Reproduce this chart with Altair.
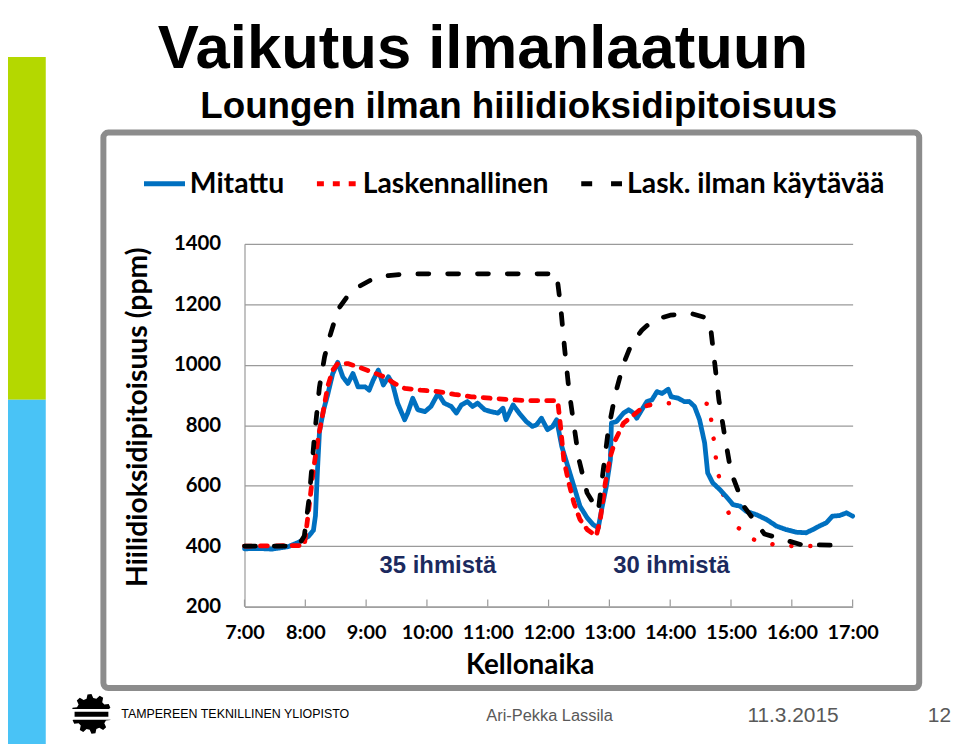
import math
import altair as alt
import pandas as pd

# ---------------- data ----------------
series_names = ["Mitattu", "Laskennallinen", "Lask. ilman käytävää"]
series_colors = ["#0070C0", "#FF0000", "#000000"]

# minutes after 7:00 and CO2 (ppm)
mitattu_min = [0, 14, 27, 43, 53, 63, 68, 70, 72, 74,
               78, 82, 87, 92, 97, 102, 107, 112, 119, 123,
               127, 132, 137, 142, 146, 151, 158, 161, 166, 171,
               178, 184, 191, 197, 204, 209, 214, 220, 225, 230,
               237, 243, 250, 255, 258, 265, 271, 278, 284, 288,
               293, 299, 304, 308, 313, 318, 325, 331, 338, 344,
               349, 353, 357, 361, 362, 367, 374, 379, 384, 387,
               392, 397, 402, 407, 412, 418, 421, 428, 434, 439,
               444, 449, 454, 457, 462, 469, 475, 482, 489, 495,
               505, 515, 525, 534, 544, 554, 561, 567, 574, 580,
               587, 594, 600]
mitattu_ppm = [391, 392, 390, 398, 412, 432, 452, 500, 650, 780,
               850, 900, 970, 1008, 960, 938, 971, 927, 927, 916,
               949, 982, 933, 960, 938, 873, 818, 840, 889, 851,
               845, 862, 905, 873, 862, 840, 867, 878, 862, 873,
               851, 845, 840, 856, 818, 867, 840, 812, 796, 801,
               823, 785, 796, 818, 730, 675, 598, 532, 494, 471,
               460, 532, 598, 686, 807, 812, 840, 851, 840, 823,
               851, 878, 884, 911, 905, 919, 894, 889, 878, 878,
               862, 818, 741, 642, 609, 587, 565, 537, 532, 515,
               504, 488, 466, 455, 446, 444, 455, 466, 477, 499,
               501, 510, 499]

lask_min = [0, 59, 63, 68, 73, 78, 82, 87, 92, 102,
            112, 125, 138, 148, 158, 174, 191, 207, 224, 243,
            263, 283, 309, 312, 315, 320, 325, 331, 338, 347,
            351, 356, 361, 366, 374, 384, 394, 400, 420, 439,
            459, 461, 464, 466, 471, 475, 485, 502, 521, 541, 562]
lask_ppm = [400, 402, 510, 653, 763, 851, 927, 982, 1004, 1004,
            993, 977, 960, 938, 922, 916, 911, 902, 894, 889,
            884, 881, 881, 790, 686, 609, 543, 488, 455, 433,
            488, 609, 697, 752, 807, 834, 862, 867, 873, 878,
            870, 796, 730, 658, 592, 526, 466, 422, 406, 400, 400]

ilman_min = [0, 53, 59, 64, 69, 74, 79, 84, 89, 94,
             101, 112, 125, 142, 158, 191, 308, 312, 316, 320,
             325, 330, 338, 349, 354, 359, 366, 374, 382, 392,
             403, 420, 441, 456, 460, 464, 468, 474, 480, 493,
             513, 549, 589]
ilman_ppm = [400, 400, 433, 565, 763, 927, 1026, 1092, 1147, 1191,
             1224, 1257, 1281, 1295, 1300, 1301, 1301, 1190, 1048, 920,
             800, 686, 576, 515, 653, 785, 905, 1004, 1070, 1114,
             1147, 1164, 1169, 1155, 1120, 1003, 885, 760, 645, 530,
             440, 405, 402]

hour_ticks = [7, 8, 9, 10, 11, 12, 13, 14, 15, 16, 17]
ppm_ticks = [200, 400, 600, 800, 1000, 1200, 1400]

ann_text = ["35 ihmistä", "30 ihmistä"]
ann_hour = [10.18, 14.02]
ann_ppm = [312, 312]

START_HOUR = 7
LASK_DOTTED_FROM = 400  # minutes after 7:00 where the calculated line turns dotted

# ---------------- tables ----------------
def frame(name, mins, vals):
    return pd.DataFrame({"series": name,
                         "hour": [START_HOUR + m / 60 for m in mins],
                         "ppm": vals,
                         "minute": mins})

blue_df = frame(series_names[0], mitattu_min, mitattu_ppm)
red_df = frame(series_names[1], lask_min, lask_ppm)
black_df = frame(series_names[2], ilman_min, ilman_ppm)

red_dash_df = red_df[red_df["minute"] <= LASK_DOTTED_FROM]
red_dot_df = red_df[red_df["minute"] >= LASK_DOTTED_FROM]

lines_df = pd.concat([blue_df, red_dash_df, black_df], ignore_index=True)
ann_df = pd.DataFrame({"text": ann_text, "hour": ann_hour, "ppm": ann_ppm})
ticks_df = pd.DataFrame({"hour": hour_ticks})
one = pd.DataFrame({"k": [0]})

W, H = 612, 365
GRAY = "#9a9a9a"

x_scale = alt.Scale(domain=[7, 17], nice=False, zero=False)
y_scale = alt.Scale(domain=[200, 1400], nice=False, zero=False)

leg = alt.Legend(orient="none", legendX=-104, legendY=-84, direction="horizontal",
                 title=None, symbolType="stroke", symbolStrokeWidth=5, symbolSize=1700,
                 labelFont="Lato", labelFontSize=28.5, labelFontWeight="bold",
                 labelColor="black", labelLimit=500, columnPadding=22, labelOffset=2)

x_axis = alt.Axis(values=hour_ticks, labelExpr="datum.value + ':00'", grid=False,
                  ticks=False, tickSize=0, domainColor=GRAY, domainWidth=1.2,
                  labelFont="Lato", labelFontSize=20, labelFontWeight="bold",
                  labelColor="black", labelPadding=16, labelFlush=False, labelOverlap=False,
                  title="Kellonaika", titleFont="Lato", titleFontSize=28,
                  titleFontWeight="bold", titleColor="black", titleX=287, titleY=59,
                  titleBaseline="middle")

y_axis = alt.Axis(values=ppm_ticks, format="d", grid=True, gridColor=GRAY, gridWidth=1.2,
                  ticks=False, tickSize=0, domainColor=GRAY, domainWidth=1.2,
                  labelFont="Lato", labelFontSize=20.5, labelFontWeight="bold",
                  labelColor="black", labelPadding=24, labelFlush=False, labelOverlap=False,
                  title="Hiilidioksidipitoisuus (ppm)", titleFont="Lato", titleFontSize=28.5,
                  titleFontWeight="bold", titleColor="black", titleX=-108, titleY=174,
                  titleBaseline="middle")


def rect(x, x2, y, y2, **kw):
    return alt.Chart(one).mark_rect(**kw).encode(
        x=alt.value(x), x2=alt.value(x2), y=alt.value(y), y2=alt.value(y2))


def label(txt, x, y, **kw):
    return alt.Chart(one).mark_text(text=txt, **kw).encode(x=alt.value(x), y=alt.value(y))


def gear_path(n=10, r_out=1.0, r_in=0.8):
    pts = []
    step = 2 * math.pi / n
    for i in range(n):
        a0 = step * i
        for frac, r in [(0.0, r_in), (0.18, r_out), (0.5, r_out), (0.68, r_in)]:
            a = a0 + frac * step
            pts.append((r * math.cos(a), r * math.sin(a)))
    return "M" + " L".join(f"{px:.3f},{py:.3f}" for px, py in pts) + " Z"


# ---------------- slide decorations ----------------
green = rect(-250, -200, -188, 157, color="#B4D800")
cyan = rect(-250, -200, 157, 505, color="#49C3F6")
box = rect(-142, 679, -112, 447, fillOpacity=0, stroke="#8C8C8C", strokeWidth=6,
           cornerRadius=5)

title = label("Vaikutus ilmanlaatuun", 240, -177, font="Liberation Sans", fontSize=62,
              fontWeight="bold", align="center", baseline="alphabetic", color="black")
subtitle = label("Loungen ilman hiilidioksidipitoisuus", 276, -127, font="Liberation Sans",
                 fontSize=37, fontWeight="bold", align="center", baseline="alphabetic",
                 color="black")

logo_gear = alt.Chart(one).mark_point(shape=gear_path(), filled=True, color="black",
                                      opacity=1, size=1600).encode(
    x=alt.value(-154), y=alt.value(473))
logo_band = rect(-176, -132, 468, 479, color="white")
logo_bar = rect(-171, -137, 471, 476, color="black")

uni = label("TAMPEREEN TEKNILLINEN YLIOPISTO", -124, 473, font="Liberation Sans",
            fontSize=12.5, align="left", baseline="middle", color="black")
author = label("Ari-Pekka Lassila", 307, 475, font="Liberation Sans",
               fontSize=16.5, align="center", baseline="middle", color="#595959")
date = label("11.3.2015", 552, 475, font="Liberation Sans",
             fontSize=21, align="center", baseline="middle", color="#595959")
page = label("12", 711, 475, font="Liberation Sans",
             fontSize=21, align="right", baseline="middle", color="#595959")

# ---------------- chart ----------------
lines = alt.Chart(lines_df).mark_line(strokeCap="round", strokeJoin="round",
                                      strokeWidth=4.8).encode(
    x=alt.X("hour:Q", scale=x_scale, axis=x_axis),
    y=alt.Y("ppm:Q", scale=y_scale, axis=y_axis),
    color=alt.Color("series:N", scale=alt.Scale(domain=series_names, range=series_colors),
                    legend=leg),
    strokeDash=alt.StrokeDash("series:N",
                              scale=alt.Scale(domain=series_names,
                                              range=[[1, 0], [7, 9], [11, 19]]),
                              legend=leg),
)

red_dots = alt.Chart(red_dot_df).mark_line(color="#FF0000", strokeWidth=4.5, strokeCap="round",
                                           strokeDash=[0.1, 19]).encode(
    x=alt.X("hour:Q", scale=x_scale), y=alt.Y("ppm:Q", scale=y_scale))

inner_ticks = alt.Chart(ticks_df).mark_rule(color=GRAY, strokeWidth=1.2).encode(
    x=alt.X("hour:Q", scale=x_scale), y=alt.value(H), y2=alt.value(H - 7))

annotations = alt.Chart(ann_df).mark_text(font="Liberation Sans", fontSize=24,
                                          fontWeight="bold", color="#1B2A5E",
                                          align="center", baseline="alphabetic").encode(
    x=alt.X("hour:Q", scale=x_scale), y=alt.Y("ppm:Q", scale=y_scale), text="text:N")

chart = alt.layer(
    green, cyan, box, title, subtitle,
    logo_gear, logo_band, logo_bar, uni, author, date, page,
    inner_ticks, red_dots, lines, annotations,
).properties(
    width=W, height=H,
    autosize=alt.AutoSizeParams(type="none"),
    padding={"left": 238, "top": 235, "right": 100, "bottom": 136},
    background="white",
).configure_view(stroke=None)

chart.save("out.html", embed_options={"renderer": "svg", "actions": False})
